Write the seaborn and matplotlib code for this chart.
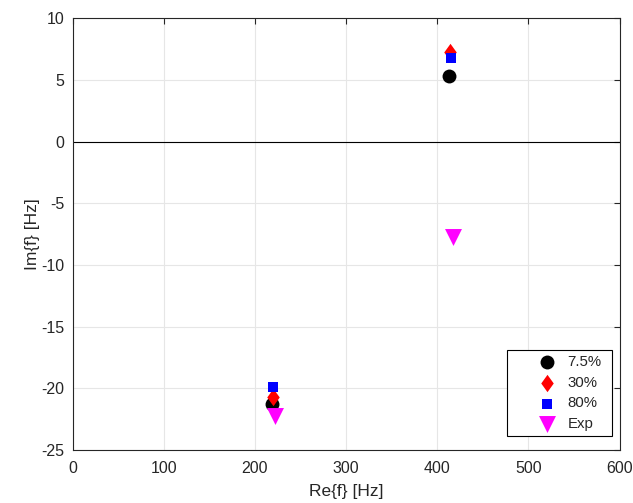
import numpy as np
import pandas as pd
import matplotlib
matplotlib.use("Agg")
import matplotlib.pyplot as plt
import seaborn as sns

# pole locations
re_75 = [218.7, 413.4]
im_75 = [-21.3, 5.3]
re_30 = [219.3, 414.2]
im_30 = [-20.7, 7.3]
re_80 = [219.3, 415.6]
im_80 = [-19.9, 6.75]
re_exp = [222.4, 417.0]
im_exp = [-22.25, -7.75]

labels = ["7.5%", "30%", "80%", "Exp"]

sns.set_style("white")
plt.rcParams["font.family"] = ["Liberation Sans", "DejaVu Sans"]
plt.rcParams["axes.unicode_minus"] = False

fig = plt.figure(figsize=(6.33, 5.03), dpi=100)
ax = fig.add_axes([0.1148, 0.1054, 0.8639, 0.8582])

diamond = [(0, 1), (0.72, 0), (0, -1), (-0.72, 0), (0, 1)]
series = [
    (re_75, im_75, "black", "o", 10),
    (re_30, im_30, "red", diamond, 12.5),
    (re_80, im_80, "blue", "s", 7.3),
    (re_exp, im_exp, "magenta", "v", 12.2),
]
for (x, y, c, m, ms), lab in zip(series, labels):
    df = pd.DataFrame({"Re": x, "Im": y})
    sns.scatterplot(data=df, x="Re", y="Im", ax=ax, color=c, marker=m,
                    s=ms ** 2, linewidth=0, label=lab, zorder=3)

ax.axhline(0, color="black", lw=0.8, zorder=2)

ax.set_xlim(0, 600)
ax.set_ylim(-25, 10)
ax.set_xticks(np.arange(0, 601, 100))
ax.set_yticks(np.arange(-25, 11, 5))
ax.grid(True, color="#e6e6e6", lw=0.8)
ax.set_axisbelow(True)
ax.tick_params(direction="in", length=4, top=True, right=True,
               labelsize=11.5, colors="#262626")
ax.tick_params(axis="x", pad=8)
ax.tick_params(axis="y", pad=6)
for sp in ax.spines.values():
    sp.set_color("#262626")
    sp.set_linewidth(0.8)

ax.set_xlabel("Re{f} [Hz]", fontsize=12.5, color="#262626", labelpad=6)
ax.set_ylabel("Im{f} [Hz]", fontsize=12.5, color="#262626", labelpad=1)

# wide MATLAB-style legend box: expand to a fixed width
leg = ax.legend(loc="lower left", bbox_to_anchor=(0.7943, 0.0324, 0.192, 0.2),
                mode="expand", borderaxespad=0, fontsize=10.8, frameon=True,
                fancybox=False, edgecolor="black", framealpha=1, borderpad=0.32,
                handlelength=4.7, handletextpad=-1.0, labelspacing=0.45)
leg.get_frame().set_linewidth(0.8)

plt.savefig("out.png", dpi=100)
